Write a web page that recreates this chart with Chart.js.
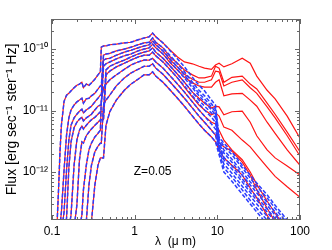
<!DOCTYPE html>
<html>
<head>
<meta charset="utf-8">
<script src="https://cdn.jsdelivr.net/npm/chart.js@4.4.1/dist/chart.umd.min.js"></script>
<style>
  html, body { margin: 0; padding: 0; background: #fff; }
  #wrap { width: 332px; height: 250px; }
</style>
</head>
<body>
<div id="wrap"><canvas id="sedChart"></canvas></div>
<script>
// wavelength grid, micron
const lambda = [0.105, 0.11, 0.115, 0.12, 0.125, 0.13, 0.14, 0.15, 0.16, 0.17, 0.185, 0.2, 0.215, 0.23, 0.24, 0.26, 0.28, 0.3, 0.33, 0.36, 0.385, 0.395, 0.42, 0.45, 0.5, 0.6, 0.75, 0.9, 1.1, 1.3, 1.5, 1.65, 1.8, 2.2, 2.7, 3.3, 4, 5, 6, 7, 8.5, 9.5, 10.5, 12, 15, 20, 25, 30, 40, 50, 70, 100];

// stellar-only spectra (blue dashed), log10 flux
const star1 = [-13.51, -13.19, -12.86, -12.29, -11.67, -11.24, -10.85, -10.75, -10.72, -10.68, -10.63, -10.59, -10.57, -10.54, -10.63, -10.57, -10.59, -10.55, -10.49, -10.42, -10.37, -9.97, -9.95, -9.95, -9.93, -9.92, -9.90, -9.89, -9.85, -9.82, -9.80, -9.74, -9.80, -9.90, -10.03, -10.16, -10.29, -10.46, -10.59, -10.68, -10.83, -10.91, -11.43, -11.53, -11.67, -11.89, -12.05, -12.18, -12.37, -12.54, -12.78, -13.02];
const star2 = [-13.67, -13.46, -13.27, -13.07, -12.88, -12.65, -11.97, -11.40, -11.12, -10.99, -10.91, -10.86, -10.83, -10.80, -10.88, -10.81, -10.80, -10.76, -10.72, -10.65, -10.60, -10.60, -10.10, -10.08, -10.07, -10.03, -10.00, -9.97, -9.93, -9.90, -9.89, -9.82, -9.89, -9.98, -10.11, -10.24, -10.37, -10.54, -10.67, -10.76, -10.89, -10.98, -11.46, -11.58, -11.72, -11.93, -12.10, -12.23, -12.42, -12.59, -12.83, -13.07];
const star3 = [-13.76, -13.59, -13.43, -13.27, -13.11, -12.98, -12.65, -11.97, -11.48, -11.24, -11.12, -11.06, -11.01, -10.98, -11.04, -10.99, -10.96, -10.93, -10.86, -10.80, -10.75, -10.75, -10.18, -10.16, -10.15, -10.10, -10.05, -10.02, -9.98, -9.95, -9.93, -9.87, -9.93, -10.03, -10.16, -10.29, -10.42, -10.59, -10.72, -10.81, -10.94, -11.02, -11.50, -11.64, -11.79, -12.00, -12.16, -12.29, -12.49, -12.65, -12.89, -13.14];
const star4 = [-13.84, -13.72, -13.59, -13.46, -13.35, -13.24, -13.02, -12.75, -11.93, -11.51, -11.28, -11.19, -11.14, -11.11, -11.17, -11.12, -11.09, -11.06, -10.99, -10.93, -10.91, -10.91, -10.28, -10.24, -10.21, -10.16, -10.11, -10.08, -10.03, -10.00, -9.98, -9.92, -9.98, -10.08, -10.21, -10.34, -10.47, -10.63, -10.76, -10.86, -10.99, -11.07, -11.53, -11.69, -11.84, -12.05, -12.21, -12.34, -12.54, -12.70, -12.94, -13.19];
const star5 = [-13.92, -13.84, -13.76, -13.67, -13.59, -13.51, -13.35, -13.11, -12.91, -12.70, -11.89, -11.48, -11.32, -11.25, -11.30, -11.24, -11.19, -11.15, -11.11, -11.06, -11.02, -11.02, -11.02, -10.34, -10.28, -10.23, -10.18, -10.13, -10.08, -10.05, -10.03, -9.98, -10.05, -10.15, -10.28, -10.41, -10.54, -10.70, -10.83, -10.93, -11.04, -11.12, -11.56, -11.76, -11.90, -12.11, -12.28, -12.41, -12.60, -12.76, -13.01, -13.25];
const star6 = [-14.00, -13.95, -13.89, -13.82, -13.76, -13.69, -13.56, -13.40, -13.24, -13.07, -12.91, -12.54, -11.80, -11.51, -11.53, -11.41, -11.35, -11.30, -11.24, -11.19, -11.15, -11.15, -11.15, -10.42, -10.36, -10.29, -10.23, -10.18, -10.13, -10.10, -10.10, -10.05, -10.11, -10.21, -10.34, -10.47, -10.60, -10.76, -10.89, -10.99, -11.11, -11.19, -11.59, -11.80, -11.95, -12.16, -12.33, -12.46, -12.65, -12.81, -13.06, -13.30];
const star7 = [-14.08, -14.03, -13.98, -13.93, -13.89, -13.84, -13.72, -13.59, -13.46, -13.33, -13.19, -13.04, -12.91, -12.70, -12.29, -11.89, -11.64, -11.53, -11.43, -11.37, -11.32, -10.83, -10.63, -10.57, -10.50, -10.42, -10.33, -10.26, -10.21, -10.18, -10.18, -10.15, -10.21, -10.31, -10.44, -10.57, -10.70, -10.86, -10.99, -11.09, -11.22, -11.30, -11.63, -11.87, -12.02, -12.23, -12.39, -12.52, -12.72, -12.88, -13.12, -13.37];
const star8 = [-14.16, -14.11, -14.07, -14.02, -13.97, -13.92, -13.82, -13.72, -13.63, -13.53, -13.40, -13.28, -13.19, -13.11, -12.98, -12.81, -12.21, -11.89, -11.67, -11.58, -11.53, -11.53, -10.91, -10.83, -10.75, -10.60, -10.47, -10.39, -10.33, -10.28, -10.28, -10.24, -10.31, -10.41, -10.54, -10.67, -10.80, -10.96, -11.09, -11.19, -11.32, -11.40, -11.67, -11.93, -12.08, -12.29, -12.46, -12.59, -12.78, -12.94, -13.19, -13.43];
const star9 = [-14.24, -14.19, -14.14, -14.10, -14.05, -14.00, -13.90, -13.81, -13.71, -13.61, -13.50, -13.40, -13.30, -13.20, -13.15, -13.04, -12.93, -12.81, -12.21, -11.89, -11.77, -11.77, -11.77, -11.24, -11.02, -10.83, -10.67, -10.57, -10.49, -10.42, -10.42, -10.37, -10.44, -10.54, -10.67, -10.80, -10.93, -11.09, -11.22, -11.32, -11.43, -11.51, -11.72, -12.00, -12.15, -12.36, -12.52, -12.65, -12.85, -13.01, -13.25, -13.50];

// with dust (red solid): from 2.7 micron onward, log10 flux
const dustStart = 34;
const dust1 = [-10.02, -10.13, -10.21, -10.24, -10.28, -10.31, -10.33, -10.26, -10.23, -10.29, -10.24, -10.15, -10.23, -10.44, -10.67, -10.81, -11.09, -11.45];
const dust2 = [-10.13, -10.23, -10.34, -10.42, -10.47, -10.47, -10.44, -10.28, -10.31, -10.54, -10.46, -10.44, -10.57, -10.65, -10.88, -11.06, -11.35, -11.67];
const dust3 = [-10.18, -10.29, -10.41, -10.49, -10.54, -10.54, -10.50, -10.36, -10.37, -10.60, -10.54, -10.50, -10.63, -10.72, -10.94, -11.12, -11.41, -11.74];
const dust4 = [-10.23, -10.34, -10.46, -10.55, -10.60, -10.62, -10.62, -10.54, -10.50, -10.76, -10.73, -10.72, -10.83, -10.93, -11.19, -11.37, -11.64, -11.89];
const dust5 = [-10.28, -10.41, -10.54, -10.70, -10.80, -10.88, -10.96, -10.93, -10.94, -11.07, -11.02, -11.01, -11.19, -11.41, -11.64, -11.77, -11.90, -12.05];
const dust6 = [-10.34, -10.47, -10.62, -10.78, -10.91, -10.99, -11.07, -11.04, -11.09, -11.27, -11.32, -11.48, -11.59, -11.72, -11.92, -12.07, -12.24, -12.41];
const dust7 = [-10.44, -10.57, -10.70, -10.86, -10.99, -11.09, -11.19, -11.22, -11.32, -11.48, -11.64, -11.80, -12.00, -12.20, -12.47, -12.67, -12.94, -13.27];
const dust8 = [-10.54, -10.67, -10.80, -10.96, -11.09, -11.19, -11.32, -11.40, -11.53, -11.59, -11.66, -11.84, -12.05, -12.29, -12.59, -12.81, -13.11, -13.43];
const dust9 = [-10.67, -10.80, -10.93, -11.09, -11.22, -11.32, -11.43, -11.51, -11.64, -11.77, -11.89, -12.05, -12.26, -12.42, -12.70, -12.91, -13.24, -13.59];

const xTicks = [0.1, 1, 10, 100];
const xTickLabels = ['0.1', '1', '10', '100'];
const yTicks = [1e-12, 1e-11, 1e-10];
const yTickLabels = ['10⁻¹²', '10⁻¹¹', '10⁻¹⁰'];
const note = 'Z=0.05';

const FONT = '"Liberation Sans", Arial, Helvetica, sans-serif';
const stars = [star1, star2, star3, star4, star5, star6, star7, star8, star9];
const dusts = [dust1, dust2, dust3, dust4, dust5, dust6, dust7, dust8, dust9];

function toPoints(logs) {
  return logs.map((v, i) => ({ x: lambda[i], y: Math.pow(10, v) }));
}

const datasets = [];
// blue stellar curves on top
stars.forEach(s => {
  datasets.push({
    data: toPoints(s),
    borderColor: '#2b3dff',
    borderWidth: 1.5,
    borderDash: [4, 2],
    order: 0
  });
});
stars.forEach((s, k) => {
  datasets.push({
    data: toPoints(s.slice(0, dustStart).concat(dusts[k])),
    borderColor: '#ff1414',
    borderWidth: 1.2,
    order: 1
  });
});

// box with inward ticks on every side, plus the label
const framePlugin = {
  id: 'frame',
  afterDatasetsDraw(chart) {
    const { ctx, chartArea: a } = chart;
    const x = chart.scales.x, y = chart.scales.y;
    ctx.save();
    ctx.strokeStyle = '#666';
    ctx.lineWidth = 1;
    ctx.strokeRect(a.left + 0.5, a.top + 0.5, a.right - a.left - 1, a.bottom - a.top - 1);
    ctx.beginPath();
    for (let e = -2; e <= 2; e++) {
      for (let m = 1; m <= 9; m++) {
        const v = m * Math.pow(10, e);
        if (v < x.min || v > x.max) continue;
        const px = Math.round(x.getPixelForValue(v)) + 0.5;
        const len = m === 1 ? 5 : 3;
        ctx.moveTo(px, a.bottom); ctx.lineTo(px, a.bottom - len);
        ctx.moveTo(px, a.top); ctx.lineTo(px, a.top + len);
      }
    }
    for (let e = -14; e <= -10; e++) {
      for (let m = 1; m <= 9; m++) {
        const v = m * Math.pow(10, e);
        if (v < y.min || v > y.max) continue;
        const py = Math.round(y.getPixelForValue(v)) + 0.5;
        const len = m === 1 ? 5 : 3;
        ctx.moveTo(a.left, py); ctx.lineTo(a.left + len, py);
        ctx.moveTo(a.right, py); ctx.lineTo(a.right - len, py);
      }
    }
    ctx.stroke();
    ctx.fillStyle = '#000';
    ctx.font = '12px ' + FONT;
    ctx.textAlign = 'center';
    ctx.textBaseline = 'middle';
    ctx.fillText(note, x.getPixelForValue(1.65), y.getPixelForValue(1e-12));
    ctx.restore();
  }
};

const config = {
  type: 'line',
  data: { datasets: datasets },
  options: {
    responsive: true,
    maintainAspectRatio: false,
    animation: false,
    layout: { padding: { left: 0, right: 32, top: 19, bottom: 0 } },
    elements: { point: { radius: 0 }, line: { tension: 0 } },
    plugins: { legend: { display: false }, tooltip: { enabled: false } },
    datasets: { line: { clip: 0 } },
    scales: {
      x: {
        type: 'logarithmic',
        min: 0.0973,
        max: 100,
        grid: { display: false, drawTicks: false },
        border: { display: false },
        afterBuildTicks: s => { s.ticks = xTicks.map(v => ({ value: v })); },
        afterFit: s => { s.height = 30; s.paddingLeft = 0; s.paddingRight = 0; },
        ticks: {
          autoSkip: false, maxRotation: 0, padding: 4, color: '#000',
          font: { family: FONT, size: 12 },
          callback: (v, i) => xTickLabels[i]
        },
        title: {
          display: true, text: 'λ  (μ m)', color: '#000',
          font: { family: FONT, size: 12 }, padding: { top: 0, bottom: 1 }
        }
      },
      y: {
        type: 'logarithmic',
        min: 1.66e-13,
        max: 3.08e-10,
        grid: { display: false, drawTicks: false },
        border: { display: false },
        afterBuildTicks: s => { s.ticks = yTicks.map(v => ({ value: v })); },
        afterFit: s => { s.width = 51; s.paddingTop = 0; s.paddingBottom = 0; },
        ticks: {
          autoSkip: false, padding: 3, color: '#000',
          font: { family: FONT, size: 12 },
          callback: (v, i) => yTickLabels[i]
        },
        title: {
          display: true, text: 'Flux [erg sec⁻¹ ster⁻¹ Hz]', color: '#000',
          font: { family: FONT, size: 14 }, padding: { top: 4, bottom: 0 }
        }
      }
    }
  },
  plugins: [framePlugin]
};

window.onload = function () {
  const ctx = document.getElementById('sedChart').getContext('2d');
  new Chart(ctx, config);
};
</script>
</body>
</html>
